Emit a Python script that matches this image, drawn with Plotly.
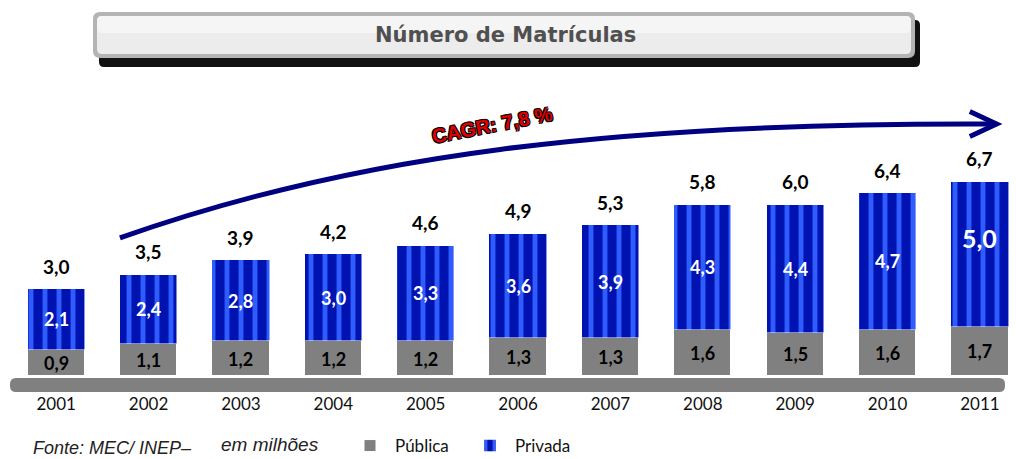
import plotly.graph_objects as go

# data (milhões de matrículas)
anos = ["2001", "2002", "2003", "2004", "2005", "2006", "2007", "2008", "2009", "2010", "2011"]
publica = [0.9, 1.1, 1.2, 1.2, 1.2, 1.3, 1.3, 1.6, 1.5, 1.6, 1.7]
privada = [2.1, 2.4, 2.8, 3.0, 3.3, 3.6, 3.9, 4.3, 4.4, 4.7, 5.0]
totais = [3.0, 3.5, 3.9, 4.2, 4.6, 4.9, 5.3, 5.8, 6.0, 6.4, 6.7]
cagr = "CAGR: 7,8 %"

W, H = 1016, 459
ML, MR, MT, MB = 10, 0, 90, 67


def br(v):
    return f"{v:.1f}".replace(".", ",")


# pixel -> paper helpers (for decoration only)
def px(x):
    return (x - ML) / (W - ML - MR)


def py(y):
    return (H - MB - y) / (H - MT - MB)


xs = list(range(len(anos)))
FONT = "Lato"

fig = go.Figure()

fig.add_trace(go.Bar(
    x=xs, y=publica, name="Pública", width=0.62,
    marker=dict(color="#808080", line=dict(color="white", width=1)),
))

fig.add_trace(go.Bar(
    x=xs, y=privada, name="Privada", width=0.62,
    marker=dict(color="#0012b0", line=dict(color="white", width=0.5),
                pattern=dict(shape="|", fgcolor="#2f5cff", bgcolor="#0012b0",
                             size=14, solidity=0.35, fillmode="replace")),
))

annotations = []
last = len(anos) - 1
for i, t in enumerate(totais):
    # segment labels
    annotations.append(dict(x=xs[i], y=publica[i] / 2, text=br(publica[i]), showarrow=False,
                            font=dict(family=FONT, size=18, color="#000000", weight="bold")))
    annotations.append(dict(x=xs[i], y=publica[i] + privada[i] / 2, text=br(privada[i]), showarrow=False,
                            yshift=16 if i == last else 0,
                            font=dict(family=FONT, size=25 if i == last else 18,
                                      color="white", weight="bold")))
    # total on top
    annotations.append(dict(x=xs[i], y=publica[i] + privada[i], text=br(t), showarrow=False,
                            yshift=23, font=dict(family=FONT, size=19, color="#000000", weight="bold")))

# title
annotations.append(dict(xref="paper", yref="paper", x=px(505), y=py(35), yanchor="middle",
                        text="<b>Número de Matrículas</b>",
                        showarrow=False, font=dict(family="DejaVu Sans", size=21, color="#505050")))
# CAGR
annotations.append(dict(x=4.72, y=8.66, text="<b>" + cagr + "</b>", showarrow=False, textangle=-11,
                        font=dict(family="Liberation Sans", size=20, color="#e00000",
                                  shadow="1px 1px 0 #000, -1px -1px 0 #000, 1px -1px 0 #000, -1px 1px 0 #000")))
# footer
annotations.append(dict(xref="paper", yref="paper", x=px(32), y=py(448), xanchor="left", yanchor="middle",
                        text="<i>Fonte: MEC/ INEP–</i>", borderpad=0,
                        showarrow=False, font=dict(family="Liberation Sans", size=18, color="#222222")))
annotations.append(dict(xref="paper", yref="paper", x=px(220), y=py(445), xanchor="left", yanchor="middle",
                        text="<i>em milhões</i>", borderpad=0,
                        showarrow=False, font=dict(family="Liberation Sans", size=19, color="#222222")))


def rrect(x0, y0, x1, y1, r):
    # rounded rect path in paper coords from pixel box
    a, b, c, d = px(x0), py(y0), px(x1), py(y1)
    rx = r / (W - ML - MR)
    ry = r / (H - MT - MB)
    return (f"M {a+rx},{b} L {c-rx},{b} Q {c},{b} {c},{b-ry} L {c},{d+ry} Q {c},{d} {c-rx},{d} "
            f"L {a+rx},{d} Q {a},{d} {a},{d+ry} L {a},{b-ry} Q {a},{b} {a+rx},{b} Z")


shapes = [
    # title box shadow, border, fill
    dict(type="path", xref="paper", yref="paper", path=rrect(99, 20, 920, 67, 5),
         fillcolor="#111111", line=dict(width=0), layer="below"),
    dict(type="path", xref="paper", yref="paper", path=rrect(93, 12, 915, 58, 7),
         fillcolor="#b4b4b4", line=dict(width=0), layer="below"),
    dict(type="path", xref="paper", yref="paper", path=rrect(97, 16, 911, 54, 5),
         fillcolor="#ececec", line=dict(width=0), layer="below"),
    dict(type="path", xref="paper", yref="paper", path=rrect(97, 16, 911, 33, 5),
         fillcolor="#f5f5f5", line=dict(width=0), layer="below"),
    # floor
    dict(type="path", xref="paper", yref="paper", path=rrect(10, 378, 1005, 392, 6),
         fillcolor="#808080", line=dict(width=0), layer="below"),
    # growth arrow
    dict(type="path", xref="x", yref="y", path="M 0.69,4.76 C 3.2,7.6 6.0,8.75 10.16,8.69",
         line=dict(color="#000080", width=5)),
    dict(type="path", xref="x", yref="y", path="M 9.89,9.12 L 10.18,8.69 L 9.89,8.26",
         line=dict(color="#000080", width=5)),
]

fig.update_layout(
    width=W, height=H, barmode="stack", bargap=0,
    margin=dict(l=ML, r=MR, t=MT, b=MB, autoexpand=False),
    plot_bgcolor="rgba(0,0,0,0)", paper_bgcolor="white",
    xaxis=dict(range=[-0.5, 10.39], tickvals=xs, ticktext=anos, showgrid=False, zeroline=False,
               showline=False, ticks="", automargin=False,
               tickfont=dict(family=FONT, size=17, color="#111111")),
    yaxis=dict(range=[-0.55, 9.86], visible=False, automargin=False),
    showlegend=True,
    legend=dict(orientation="h", x=px(345), y=py(446), xanchor="left", yanchor="middle",
                traceorder="normal", entrywidth=65, entrywidthmode="pixels",
                font=dict(family=FONT, size=17, color="#111111"), itemwidth=40,
                bgcolor="rgba(0,0,0,0)"),
    annotations=annotations, shapes=shapes,
)

# page has a default 8px body margin; remove it so the figure sits at the window origin
fig.write_html("out.html", config={"displayModeBar": False},
               post_script="document.body.style.margin='0';")
